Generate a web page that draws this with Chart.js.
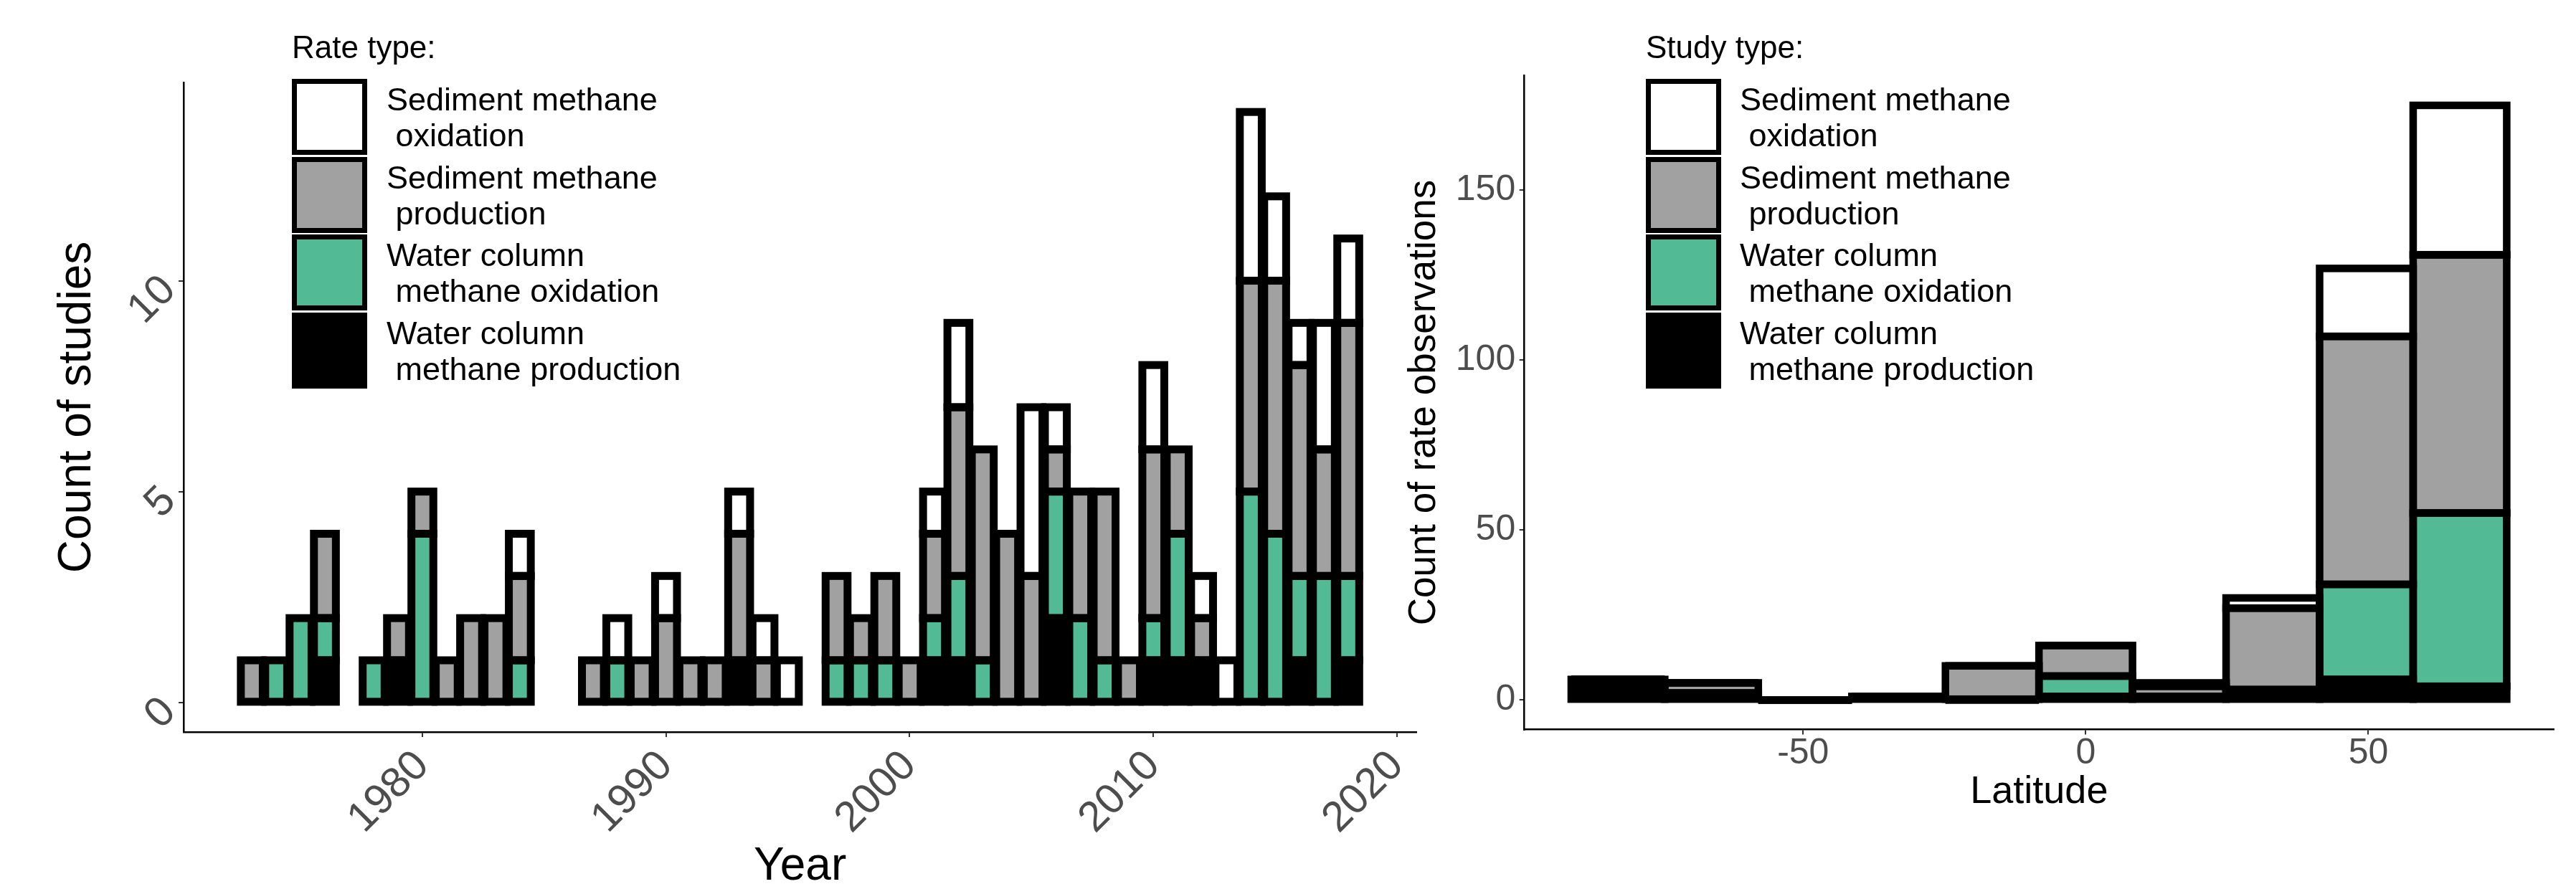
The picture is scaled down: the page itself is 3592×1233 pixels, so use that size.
<!DOCTYPE html>
<html>
<head>
<meta charset="utf-8">
<script src="https://cdn.jsdelivr.net/npm/chart.js@4.4.1/dist/chart.umd.min.js"></script>
<style>
  html, body { margin:0; padding:0; background:#fff; width:3592px; height:1233px; overflow:hidden;
    font-family:"Liberation Sans", Arial, Helvetica, sans-serif; }
  canvas { position:absolute; top:0; }
  #c1 { left:0; }
  #c2 { left:1950px; }
  .lgt { position:absolute; font-size:44px; line-height:50px; color:#000; white-space:pre; }
  .key { position:absolute; width:105px; height:106px; box-sizing:border-box; border:7.5px solid #000; }
  .lbl { position:absolute; font-size:45px; line-height:50px; color:#000; white-space:pre; }
</style>
</head>
<body>
<canvas id="c1" width="2000" height="1233"></canvas>
<canvas id="c2" width="1642" height="1233"></canvas>
<div id="legends"></div>
<script>
// ---------------- data ----------------
// stacking order bottom -> top
const seriesNames  = ["Water column\n methane production", "Water column\n methane oxidation",
                      "Sediment methane\n production", "Sediment methane\n oxidation"];
const seriesColors = ["#000000", "#52BA95", "#A1A1A1", "#FFFFFF"];

const years = [1973,1974,1975,1976,1977,1978,1979,1980,1981,1982,1983,1984,
               1985,1986,1987,1988,1989,1990,1991,1992,1993,1994,1995,1996,
               1997,1998,1999,2000,2001,2002,2003,2004,2005,2006,2007,2008,
               2009,2010,2011,2012,2013,2014,2015,2016,2017,2018];
const yrWcProduction  = [0,0,0,1,0,0,1,0,0,0,0,0,  0,0,0,0,0,0,0,0,1,0,0,0,  0,0,0,0,1,1,0,0,0,2,0,0,  0,1,1,1,0,0,0,1,0,1];
const yrWcOxidation   = [0,1,2,1,0,1,0,4,0,0,0,1,  0,0,0,1,0,0,0,0,0,0,0,0,  1,1,1,0,1,2,1,0,0,3,2,1,  0,1,3,0,0,5,4,2,3,2];
const yrSedProduction = [1,0,0,2,0,0,1,1,1,2,2,2,  0,0,1,0,1,2,1,1,3,1,0,0,  2,1,2,1,2,4,5,4,3,1,3,4,  1,4,2,1,0,5,6,5,3,6];
const yrSedOxidation  = [0,0,0,0,0,0,0,0,0,0,0,1,  0,0,0,1,0,1,0,0,1,1,1,0,  0,0,0,0,1,2,0,0,4,1,0,0,  0,2,0,1,1,4,2,1,3,2];

const latBins          = [-82.75, -66.2, -49.65, -33.1, -16.55, 0, 16.55, 33.1, 49.65, 66.2];
const latWcProduction  = [6, 2, 0, 1, 0, 1, 1, 3, 6, 4];
const latWcOxidation   = [0, 0, 0, 0, 0, 6, 0, 0, 28, 51];
const latSedProduction = [0, 3, 0, 0, 10, 9, 3, 24, 73, 76];
const latSedOxidation  = [0, 0, 0, 0, 0, 0, 1, 3, 20, 44];

const yearTicks  = [1980, 1990, 2000, 2010, 2020];
const yearLabels = ["1980", "1990", "2000", "2010", "2020"];
const countTicks  = [0, 5, 10];
const countLabels = ["0", "5", "10"];
const latTicks  = [-50, 0, 50];
const latLabels = ["-50", "0", "50"];
const obsTicks  = [0, 50, 100, 150];
const obsLabels = ["0", "50", "100", "150"];

// ---------------- helpers ----------------
const FONT = "'Liberation Sans', Arial, Helvetica, sans-serif";

const outlinePlugin = {
  id: 'outline',
  afterDatasetsDraw(chart, args, opts) {
    const ctx = chart.ctx;
    ctx.save();
    ctx.lineWidth = opts.width;
    ctx.strokeStyle = '#000';
    ctx.lineJoin = 'miter';
    chart.data.datasets.forEach((ds, i) => {
      const meta = chart.getDatasetMeta(i);
      meta.data.forEach((el, j) => {
        const raw = ds.data[j];
        if (!raw || raw.y === null || raw.y === undefined) return;
        const p = el.getProps(['x', 'y', 'base', 'width'], true);
        const top = Math.min(p.y, p.base), h = Math.abs(p.base - p.y);
        if (h < 0.01) {
          ctx.beginPath();
          ctx.moveTo(p.x - p.width / 2, p.base);
          ctx.lineTo(p.x + p.width / 2, p.base);
          ctx.stroke();
        } else {
          ctx.strokeRect(p.x - p.width / 2, top, p.width, h);
        }
      });
    });
    ctx.restore();
  }
};

function points(xs, vs, keepZero) {
  return xs.map((x, i) => ({ x: x, y: (vs[i] === 0 && !keepZero) ? null : vs[i] }));
}

function makeDatasets(xs, series, keepZero, barPct) {
  return series.map((vs, k) => ({
    label: seriesNames[k],
    data: points(xs, vs, keepZero),
    backgroundColor: seriesColors[k],
    borderWidth: 0,
    inflateAmount: 0,
    barPercentage: barPct,
    categoryPercentage: 1.0
  }));
}

function fixedTicks(values) {
  return (scale) => { scale.ticks = values.map(v => ({ value: v })); };
}

const gridOpts = { display: true, drawOnChartArea: false, drawTicks: true, offset: false,
                   tickLength: 7, color: '#333333', lineWidth: 2 };
const borderOpts = { display: true, color: '#000000', width: 2.5 };

// ---------------- left chart: studies per year ----------------
new Chart(document.getElementById('c1'), {
  type: 'bar',
  data: { datasets: makeDatasets(years, [yrWcProduction, yrWcOxidation, yrSedProduction, yrSedOxidation], false, 0.9) },
  options: {
    responsive: false, animation: false, devicePixelRatio: 1,
    layout: { padding: { left: 0, top: 115, right: 20, bottom: 0 } },
    plugins: { legend: { display: false }, tooltip: { enabled: false }, outline: { width: 11 } },
    scales: {
      x: {
        type: 'linear', stacked: true, min: 1970.2, max: 2020.8, offset: false,
        afterBuildTicks: fixedTicks(yearTicks),
        afterFit: (s) => { s.height = 212; },
        ticks: { autoSkip: false, minRotation: 45, maxRotation: 45, padding: 10,
                 color: '#4D4D4D', font: { family: FONT, size: 59, lineHeight: 1 },
                 callback: (v, i) => yearLabels[i] },
        grid: gridOpts,
        border: borderOpts,
        title: { display: true, text: 'Year', color: '#000', font: { family: FONT, size: 64, lineHeight: 1 },
                 padding: { top: 0, bottom: -8 } }
      },
      y: {
        type: 'linear', stacked: true, min: -0.7, max: 14.7,
        afterBuildTicks: fixedTicks(countTicks),
        afterFit: (s) => { s.width = 256; },
        ticks: { autoSkip: false, minRotation: 45, maxRotation: 45, padding: 13, labelOffset: 4,
                 color: '#4D4D4D', font: { family: FONT, size: 59, lineHeight: 1 },
                 callback: (v, i) => countLabels[i] },
        grid: gridOpts,
        border: borderOpts,
        title: { display: true, text: 'Count of studies', color: '#000', font: { family: FONT, size: 64, lineHeight: 1 },
                 padding: { top: 76, bottom: 0 } }
      }
    }
  },
  plugins: [outlinePlugin]
});

// ---------------- right chart: observations per latitude bin ----------------
new Chart(document.getElementById('c2'), {
  type: 'bar',
  data: { datasets: makeDatasets(latBins, [latWcProduction, latWcOxidation, latSedProduction, latSedOxidation], true, 1.0) },
  options: {
    responsive: false, animation: false, devicePixelRatio: 1,
    layout: { padding: { left: 0, top: 105.5, right: 31, bottom: 0 } },
    plugins: { legend: { display: false }, tooltip: { enabled: false }, outline: { width: 10.5 } },
    scales: {
      x: {
        type: 'linear', stacked: true, min: -99.3, max: 82.8, offset: false,
        afterBuildTicks: fixedTicks(latTicks),
        afterFit: (s) => { s.height = 215.4; },
        ticks: { autoSkip: false, maxRotation: 0, minRotation: 0, padding: 2,
                 color: '#4D4D4D', font: { family: FONT, size: 50, lineHeight: 1 },
                 callback: (v, i) => latLabels[i] },
        grid: gridOpts,
        border: borderOpts,
        title: { display: true, text: 'Latitude', color: '#000', font: { family: FONT, size: 54, lineHeight: 1 },
                 padding: { top: 0, bottom: 101 } }
      },
      y: {
        type: 'linear', stacked: true, min: -8.75, max: 183.75,
        afterBuildTicks: fixedTicks(obsTicks),
        afterFit: (s) => { s.width = 175.7; },
        ticks: { autoSkip: false, padding: 5.5,
                 color: '#4D4D4D', font: { family: FONT, size: 50, lineHeight: 1 },
                 callback: (v, i) => obsLabels[i] },
        grid: gridOpts,
        border: borderOpts,
        title: { display: true, text: 'Count of rate observations', color: '#000', font: { family: FONT, size: 53, lineHeight: 1 },
                 padding: { top: 10, bottom: 0 } }
      }
    }
  },
  plugins: [outlinePlugin]
});

// ---------------- legends (HTML) ----------------
function buildLegend(title, keyLeft, labelLeft) {
  const host = document.getElementById('legends');
  const t = document.createElement('div');
  t.className = 'lgt';
  t.style.left = keyLeft + 'px';
  t.style.top = '41px';
  t.textContent = title;
  host.appendChild(t);
  const keyTops = [110, 218.7, 327.4, 436];
  // legend lists top of stack first
  [3, 2, 1, 0].forEach((k, row) => {
    const key = document.createElement('div');
    key.className = 'key';
    key.style.left = keyLeft + 'px';
    key.style.top = keyTops[row] + 'px';
    key.style.background = seriesColors[k];
    host.appendChild(key);
    const lab = document.createElement('div');
    lab.className = 'lbl';
    lab.style.left = labelLeft + 'px';
    lab.style.top = (keyTops[row] + 4) + 'px';
    lab.textContent = seriesNames[k];
    host.appendChild(lab);
  });
}
buildLegend('Rate type:', 407, 539);
buildLegend('Study type:', 2295, 2426);
</script>
</body>
</html>
